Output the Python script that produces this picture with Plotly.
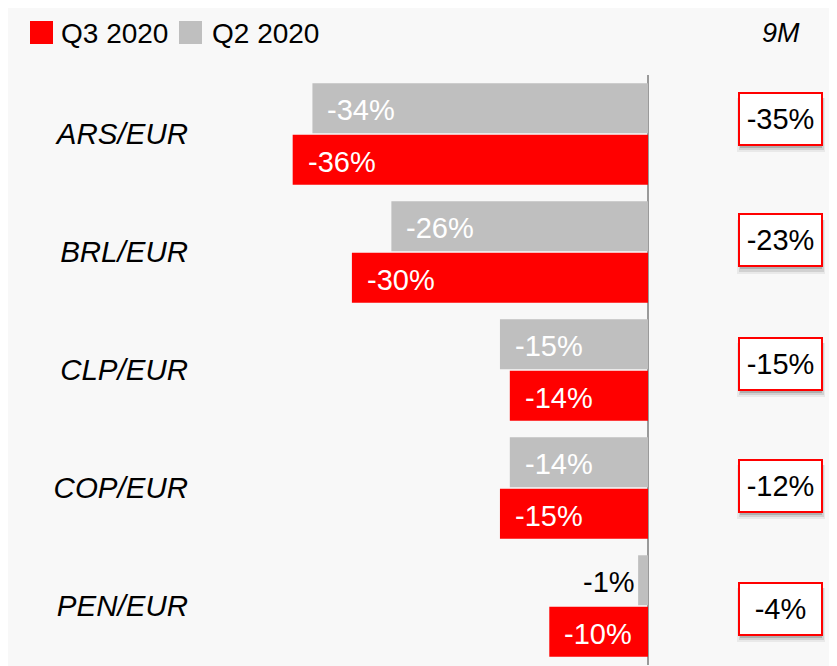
import plotly.graph_objects as go

# ---- data ----
categories = ["ARS/EUR", "BRL/EUR", "CLP/EUR", "COP/EUR", "PEN/EUR"]
q2_2020 = [-34, -26, -15, -14, -1]
q3_2020 = [-36, -30, -14, -15, -10]
nine_m = [-35, -23, -15, -12, -4]
series_names = ["Q3 2020", "Q2 2020"]
col_title = "9M"

RED = "#FF0000"
GREY = "#BFBFBF"
BG = "#F8F8F8"
FONT = "Liberation Sans, Arial, sans-serif"
FS = 29

OFF = 8                      # page body margin
W, H = 837 - OFF, 666 - OFF
ML, MR, MT, MB = 190, 0, 67, 1
PW, PH = W - ML - MR, H - MT - MB
ZERO_X = 648 - OFF           # zero line position in figure px
PX_PER_PCT = 9.87


def px(x):
    """page x pixel -> paper coord"""
    return (x - OFF - ML) / PW


def py(y):
    """page y pixel -> paper coord"""
    return (H - MB - (y - OFF)) / PH


fig = go.Figure()
fig.add_trace(go.Bar(y=categories, x=q2_2020, orientation="h", name=series_names[1],
                     marker=dict(color=GREY, line=dict(width=0)), hoverinfo="x"))
fig.add_trace(go.Bar(y=categories, x=q3_2020, orientation="h", name=series_names[0],
                     marker=dict(color=RED, line=dict(width=0)), hoverinfo="x"))

ann = []
# bar labels
for vals, ysh in ((q2_2020, 24), (q3_2020, -28)):
    for c, v in zip(categories, vals):
        if abs(v) >= 5:
            ann.append(dict(x=v, y=c, xref="x", yref="y", text=f"{v}%", showarrow=False,
                            xanchor="left", yanchor="middle", xshift=13, yshift=ysh,
                            font=dict(family=FONT, size=FS, color="white")))
        else:
            ann.append(dict(x=v, y=c, xref="x", yref="y", text=f"{v}%", showarrow=False,
                            xanchor="right", yanchor="middle", xshift=-1, yshift=ysh,
                            font=dict(family=FONT, size=FS, color="black")))

# 9M boxes
box_y = [119, 240.5, 363.5, 486, 608.5]
shadow_layers = ((1, 6, 86, 52, 0.06), (1, 5, 83, 50, 0.10), (1, 4, 80, 48, 0.16))
for v, yy in zip(nine_m, box_y):
    for dx, dy, w, h, a in shadow_layers:
        ann.append(dict(x=px(780 + dx), y=py(yy + dy), xref="paper", yref="paper", text=" ",
                        showarrow=False, xanchor="center", yanchor="middle",
                        width=w, height=h, bgcolor=f"rgba(0,0,0,{a})",
                        borderwidth=0, borderpad=1))
    ann.append(dict(x=px(780), y=py(yy), xref="paper", yref="paper", text=f"{v}%", showarrow=False,
                    xanchor="center", yanchor="middle",
                    width=79, height=48, bgcolor="white", bordercolor=RED, borderwidth=2, borderpad=1,
                    font=dict(family=FONT, size=FS, color="black")))

# column title
ann.append(dict(x=px(781), y=py(33), xref="paper", yref="paper", text=col_title, showarrow=False,
                xanchor="center", yanchor="middle",
                font=dict(family=FONT, size=27, color="black", style="italic")))

# legend
shapes = [
    dict(type="rect", xref="paper", yref="paper", x0=px(30), x1=px(53), y0=py(44), y1=py(21),
         fillcolor=RED, line=dict(width=0)),
    dict(type="rect", xref="paper", yref="paper", x0=px(179), x1=px(202), y0=py(44), y1=py(21),
         fillcolor=GREY, line=dict(width=0)),
]
ann.append(dict(x=px(59), y=py(33), xref="paper", yref="paper", text=series_names[0], showarrow=False,
                xanchor="left", yanchor="middle", font=dict(family=FONT, size=28, color="black")))
ann.append(dict(x=px(210), y=py(33), xref="paper", yref="paper", text=series_names[1], showarrow=False,
                xanchor="left", yanchor="middle", font=dict(family=FONT, size=28, color="black")))

fig.update_layout(
    width=W, height=H,
    margin=dict(l=ML, r=MR, t=MT, b=MB),
    paper_bgcolor=BG, plot_bgcolor="rgba(0,0,0,0)",
    barmode="group", bargap=0.127, bargroupgap=0.03,
    showlegend=False,
    annotations=ann, shapes=shapes,
    xaxis=dict(range=[-(ZERO_X - ML) / PX_PER_PCT, (W - MR - ZERO_X) / PX_PER_PCT], showgrid=False,
               showticklabels=False, zeroline=True, zerolinecolor="#9A9A9A", zerolinewidth=2,
               fixedrange=True),
    yaxis=dict(autorange="reversed", showgrid=False, zeroline=False, showline=False, ticks="",
               tickfont=dict(family=FONT, size=29.5, color="black", style="italic"),
               ticklabelstandoff=9),
)

fig.write_html("out.html")
